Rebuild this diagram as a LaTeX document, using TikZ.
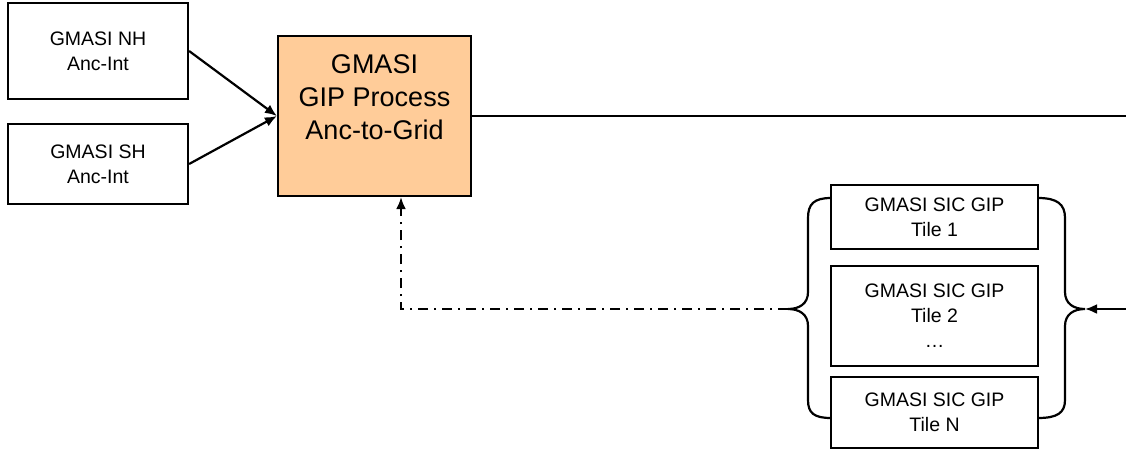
\documentclass[tikz,border=0pt]{standalone}
\usepackage{fontspec}
\setmainfont{Liberation Sans}
\usetikzlibrary{positioning}
\usetikzlibrary{arrows.meta}

\definecolor{procfill}{HTML}{FFCC99}
\tikzset{
	>={Latex[length=12pt,width=10pt]},
	block/.style={draw, line width=2.2pt, align=center, inner sep=0pt, font=\fontsize{19.5}{25}\selectfont},
	procbox/.style={block, fill=procfill},
	link/.style={line width=2.2pt},
	dashdot/.style={link, dash pattern=on 10pt off 6pt on 2pt off 6pt},
}

\begin{document}
\begin{tikzpicture}[x=1pt,y=-1pt]
		\useasboundingbox (0,0) rectangle (1126,450);
		
		\node[block, minimum width=180pt, minimum height=96pt] (nh) at (98,51) {GMASI NH\\Anc-Int};
		\node[block, minimum width=180pt, minimum height=80pt] (sh) at (98,164) {GMASI SH\\Anc-Int};
		
		\node[procbox, minimum width=193pt, minimum height=160pt] (proc) at (374.5,116) {};
		\node[anchor=north, align=center, inner sep=0pt, font=\fontsize{27}{33}\selectfont] (proctext) at ([yshift=-20pt]proc.north) {GMASI\\GIP Process\\Anc-to-Grid};
		
		\draw[link,->] (nh.east) -- (proc.west);
		\draw[link,->] (sh.east) -- (proc.west);
		
		\coordinate (mainend) at (1126,116);
		\draw[link] (proc.east) -- (mainend);
		
		\node[block, minimum width=207pt, minimum height=64pt] (tile1) at (934.5,217) {GMASI SIC GIP\\Tile 1};
		\node[block, minimum width=207pt, minimum height=100pt] (tile2) at (934.5,316) {GMASI SIC GIP\\Tile 2\\…};
		\node[block, minimum width=207pt, minimum height=71pt] (tileN) at (934.5,412.5) {GMASI SIC GIP\\Tile N};
		
		% braces round the tiles
		\coordinate (ltip) at (788,309);
		\coordinate (rtip) at (1085,309);
		\draw[link] (831,198) .. controls (814,198) and (808,204) .. (808,218) -- (808,292) .. controls (808,304) and (799,309) .. (ltip)
			.. controls (799,309) and (808,314) .. (808,326) -- (808,400) .. controls (808,413) and (814,418) .. (831,418);
		\draw[link] (1038,198) .. controls (1057,198) and (1065,204) .. (1065,218) -- (1065,292) .. controls (1065,304) and (1074,309) .. (rtip)
			.. controls (1074,309) and (1065,314) .. (1065,326) -- (1065,400) .. controls (1065,413) and (1057,418) .. (1038,418);
		
		\coordinate (rin) at (1126,309);
		\draw[link,->] (rin) -- (rtip);
		\draw[dashdot,->] (ltip) -| ([xshift=26.5pt]proc.south);
	\end{tikzpicture}
\end{document}
